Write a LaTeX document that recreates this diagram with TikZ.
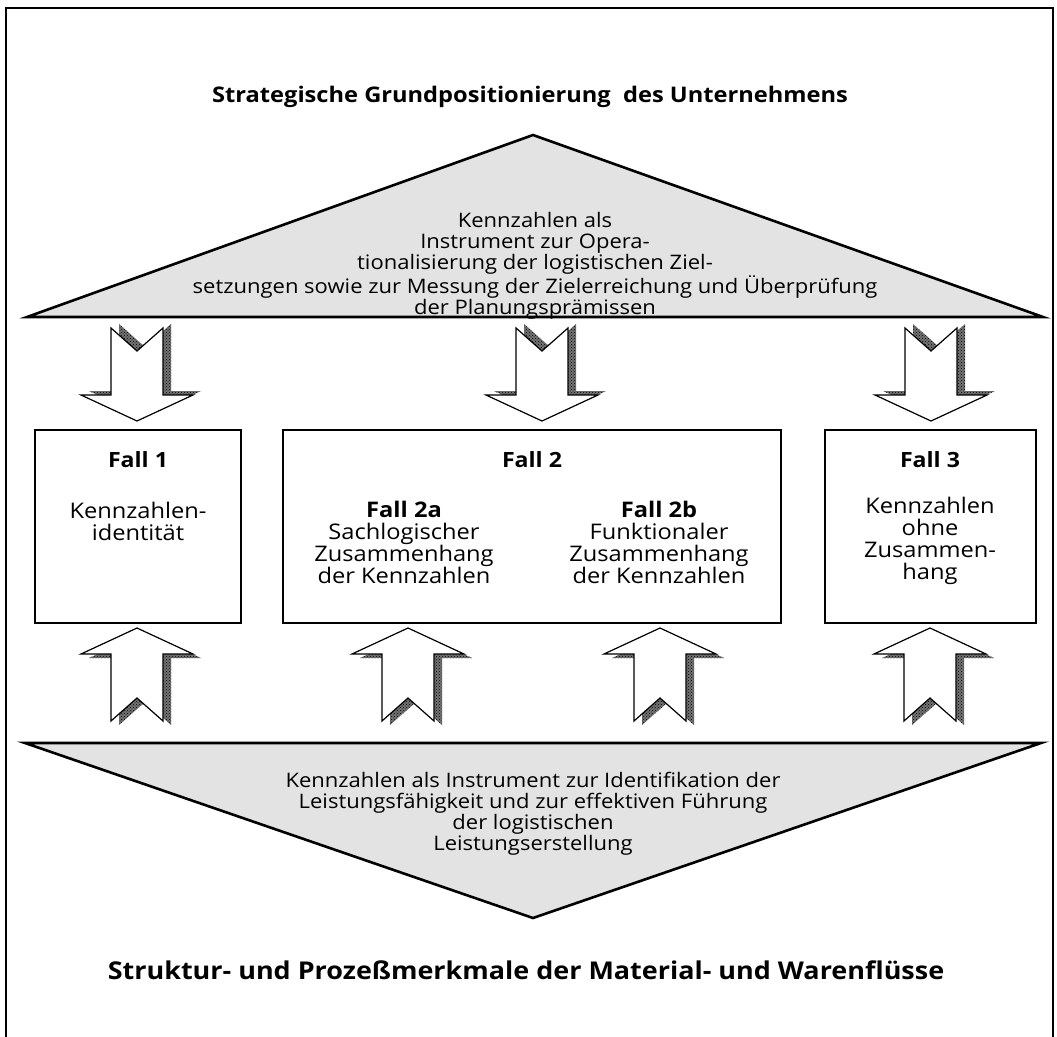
\documentclass[tikz,border=0pt]{standalone}
\usepackage{fontspec}
\setmainfont{Open Sans}[FakeStretch=1.1]
\usetikzlibrary{patterns}

\tikzset{
  keil/.style={draw, line width=2.6pt, fill=gray!22, line join=miter},
  fallbox/.style={draw, line width=2.4pt},
  kopf/.style={font=\fontsize{21}{22}\selectfont\bfseries},
  fliess/.style={align=center, font=\fontsize{21.5}{22}\selectfont},
  keiltext/.style={align=center, font=\fontsize{20}{21}\selectfont},
  titel/.style={font=\fontsize{21.5}{24}\selectfont\bfseries},
  schatten/.style={fill=black!55, postaction={pattern=crosshatch dots, pattern color=black}},
  pfeil/.style={draw, fill=white, line width=1.2pt, line join=miter},
  pics/blockpfeil/.style={code={
    \path[schatten, shift={(8,-4)}] (-26,0) -- (0,23) -- (26,0) -- (26,67) -- (56,67) -- (0,93) -- (-56,67) -- (-26,67) -- cycle;
    \draw[pfeil] (-26,0) -- (0,23) -- (26,0) -- (26,67) -- (56,67) -- (0,93) -- (-56,67) -- (-26,67) -- cycle;
  }}
}

\begin{document}
\begin{tikzpicture}[x=1pt,y=-1pt]
\useasboundingbox (0,0) rectangle (1057,1036);
\draw[line width=1.8pt] (6,1045) -- (6,8) -- (1053,8) -- (1053,1045);

\node[titel] (oben) at (530,97) {Strategische Grundpositionierung~ des Unternehmens};

% oberer Keil
\draw[keil] (27,317) -- (533,135) -- (1043,317) -- cycle;
\node[keiltext] (zielkz) at (535,266) {Kennzahlen als\\Instrument zur Opera-\\tionalisierung der logistischen Ziel-\\setzungen sowie zur Messung der Zielerreichung und Überprüfung\\der Planungsprämissen};

\pic (ab1) at (137,328) {blockpfeil};
\pic (ab2) at (542,328) {blockpfeil};
\pic (ab3) at (931,328) {blockpfeil};

% Faelle
\draw[fallbox] (35,430) rectangle (241,623);
\draw[fallbox] (283,430) rectangle (781,623);
\draw[fallbox] (825,430) rectangle (1036,623);

\node[kopf] (f1) at (138,460) {Fall 1};
\node[fliess] (f1text) at (138,521) {Kennzahlen-\\identität};
\node[kopf] (f2) at (532,460) {Fall 2};
\node[fliess] (f2a) at (404,542) {{\bfseries Fall 2a}\\Sachlogischer\\Zusammenhang\\der Kennzahlen};
\node[fliess] (f2b) at (659,542) {{\bfseries Fall 2b}\\Funktionaler\\Zusammenhang\\der Kennzahlen};
\node[kopf] (f3) at (930,460) {Fall 3};
\node[fliess] (f3text) at (930,541) {Kennzahlen\\ohne\\Zusammen-\\hang};

\pic[yscale=-1] (auf1) at (137,721) {blockpfeil};
\pic[yscale=-1] (auf2) at (408,721) {blockpfeil};
\pic[yscale=-1] (auf3) at (660,721) {blockpfeil};
\pic[yscale=-1] (auf4) at (930,721) {blockpfeil};

% unterer Keil
\draw[keil] (25,743) -- (1041,743) -- (533,918) -- cycle;
\node[keiltext] (leistkz) at (533,814) {Kennzahlen als Instrument zur Identifikation der\\Leistungsfähigkeit und zur effektiven Führung\\der logistischen\\Leistungserstellung};

\node[titel, font=\fontsize{24.5}{26}\selectfont\bfseries] (unten) at (526,970) {Struktur- und Prozeßmerkmale der Material- und Warenflüsse};
\end{tikzpicture}
\end{document}
